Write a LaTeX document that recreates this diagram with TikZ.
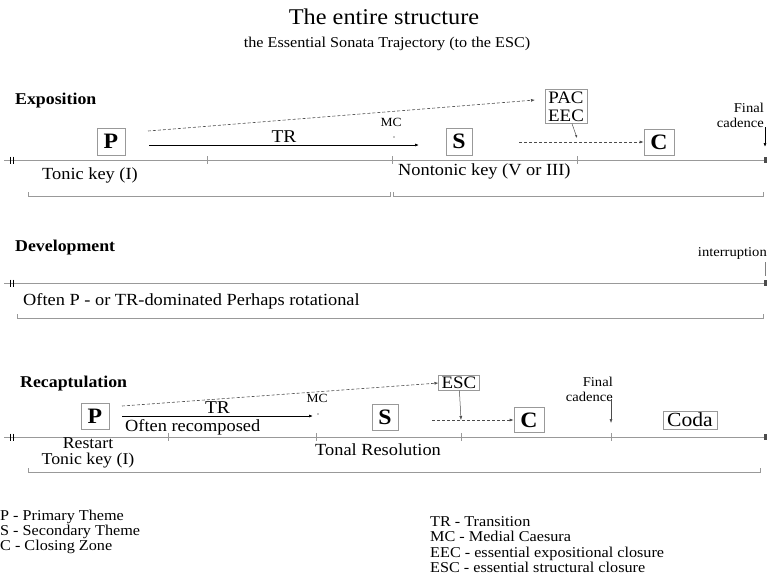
\documentclass[tikz,border=0pt]{standalone}
\usepackage{fontspec}
\setmainfont{Liberation Serif}[FakeStretch=1.08]
\usetikzlibrary{positioning,arrows.meta}
\tikzset{
  box/.style={draw=gray!80, fill=white, inner sep=2pt},
  theme/.style={box, font=\bfseries\fontsize{22}{22}\selectfont, inner xsep=6.5pt, minimum height=26.5pt},
  tline/.style={gray!80, line width=0.9pt},
  brack/.style={gray!80, line width=0.7pt},
  tick/.style={gray!80, line width=0.7pt},
  small/.style={font=\fontsize{13.5}{15}\selectfont, inner sep=0pt, align=right},
  mid/.style={font=\fontsize{17}{14.5}\selectfont, inner sep=0pt},
  head/.style={font=\bfseries\fontsize{16.5}{17}\selectfont, inner sep=0pt, anchor=west},
  arr/.style={-{Latex[length=4pt,width=3pt]}, line width=0.7pt},
  darr/.style={arr, densely dashed, gray!60!black, line width=0.6pt},
  leg/.style={font=\fontsize{15}{15.3}\selectfont, inner sep=0pt, anchor=north west, align=left},
}
\begin{document}
\begin{tikzpicture}[x=1pt, y=-1pt]
\useasboundingbox (0,0) rectangle (767,582);

% titles
\node[font=\fontsize{22.5}{23}\selectfont] (title) at (384,17) {The entire structure};
\node[font=\fontsize{15}{16}\selectfont] (subtitle) at (387,44) {the Essential Sonata Trajectory (to the ESC)};

% ---------------- Exposition
\node[head] (expo) at (15,101) {Exposition};
\draw[tline] (4,160) -- (766,160);
\foreach \x in {10,13} {\draw[black, line width=1pt] (\x,156.5) -- (\x,163.5);}
\foreach \x in {207,392,577} {\draw[tick] (\x,156) -- (\x,164);}
\fill[black!70] (763.5,157) rectangle (767,163);

\node[theme] (eP) at (111,141.5) {P};
\node[theme] (eS) at (459,141.5) {S};
\node[theme] (eC) at (659,142) {C};
\node[box, font=\fontsize{17.5}{18}\selectfont, align=center, inner xsep=3pt, inner ysep=2pt] (pac) at (566,106.5) {PAC\\EEC};
\node[small, font=\fontsize{12.5}{13}\selectfont] (emc) at (391,122) {MC};
\coordinate (emcdot) at (394,137);
\coordinate (eeec) at (577,138);
\coordinate (trs) at (149,145);
\coordinate (tre) at (419,145);
\fill (emcdot) circle (0.6pt);
\draw[arr] (trs) -- node[mid, font=\fontsize{18}{18}\selectfont, above=2pt] (etr) {TR} (tre);
\draw[darr] (148,131) -- (535,100);
\draw[-{Latex[length=3pt,width=2.5pt]}, gray!60!black, line width=0.5pt] (pac) -- (eeec);
\draw[darr] (519,142) -- (eC.west);
\node[small, anchor=east] (efin) at (764,115) {Final\\cadence};
\coordinate (efc) at (765,147);
\draw[arr] (765,127) -- (efc);

\node[mid] (tonic) at (90,175) {Tonic key (I)};
\node[mid, anchor=west] (nontonic) at (398,171) {Nontonic key (V or III)};
\draw[brack] (28,192) -- (28,196) -- (390,196) -- (390,192);
\draw[brack] (393,192) -- (393,196) -- (763,196) -- (763,192);

% ---------------- Development
\node[head] (dev) at (15,248) {Development};
\draw[tline] (4,283) -- (766,283);
\foreach \x in {10,13} {\draw[black, line width=1pt] (\x,279.5) -- (\x,286.5);}
\fill[black!70] (763.5,280) rectangle (767,286);
\node[small, anchor=east] (intr) at (767,253) {interruption};
\draw[gray, line width=0.8pt] (765,262) -- (765,276);
\node[mid, anchor=west] (often) at (23,301) {Often P - or TR-dominated Perhaps rotational};
\draw[brack] (17,314) -- (17,318) -- (763,318) -- (763,314);

% ---------------- Recapitulation
\node[head] (recap) at (20,384) {Recaptulation};
\draw[tline] (4,437) -- (766,437);
\foreach \x in {10,13} {\draw[black, line width=1pt] (\x,433.5) -- (\x,440.5);}
\foreach \x in {168,316,461,611} {\draw[tick] (\x,433) -- (\x,441);}
\fill[black!70] (763.5,434) rectangle (767,440);

\node[theme] (rP) at (95,416) {P};
\node[theme] (rS) at (385,417) {S};
\node[theme, minimum height=25pt] (rC) at (529,420) {C};
\node[box, font=\fontsize{17.5}{18}\selectfont, inner xsep=3pt, inner ysep=1.5pt] (esc) at (459,383) {ESC};
\node[box, font=\fontsize{20}{20}\selectfont, inner xsep=4pt, inner ysep=2pt] (coda) at (690,420) {Coda};
\node[small, font=\fontsize{12.5}{13}\selectfont] (rmc) at (317,398) {MC};
\coordinate (rmcdot) at (318,414);
\coordinate (resc) at (461,420);
\coordinate (rtrs) at (122,416);
\coordinate (rtre) at (313,416);
\fill (rmcdot) circle (0.6pt);
\draw[arr] (rtrs) -- node[mid, font=\fontsize{18}{18}\selectfont, above=2pt] (rtr) {TR} (rtre);
\node[mid, anchor=north west] (recomp) at (125,419) {Often recomposed};
\draw[darr] (122,406) -- (esc.west);
\draw[arr, gray!60!black, line width=0.5pt] (esc) -- (resc);
\draw[darr] (432,420) -- (rC.west);
\node[small, anchor=east] (rfin) at (613,389) {Final\\cadence};
\coordinate (rfc) at (611,423);
\draw[arr, gray!60!black, line width=0.5pt] (611,399) -- (rfc);

\node[mid, font=\fontsize{16.5}{16}\selectfont, align=center] (restart) at (88,453) {Restart\\Tonic key (I)};
\node[mid, anchor=west] (tonal) at (315,450) {Tonal Resolution};
\draw[brack] (28,468) -- (28,472) -- (760,472) -- (760,468);

% ---------------- legend
\node[leg] (legl) at (0,509.5) {P - Primary Theme\\S - Secondary Theme\\C - Closing Zone};
\node[leg] (legr) at (430,516.5) {TR - Transition\\MC - Medial Caesura\\EEC - essential expositional closure\\ESC - essential structural closure};
\end{tikzpicture}
\end{document}
